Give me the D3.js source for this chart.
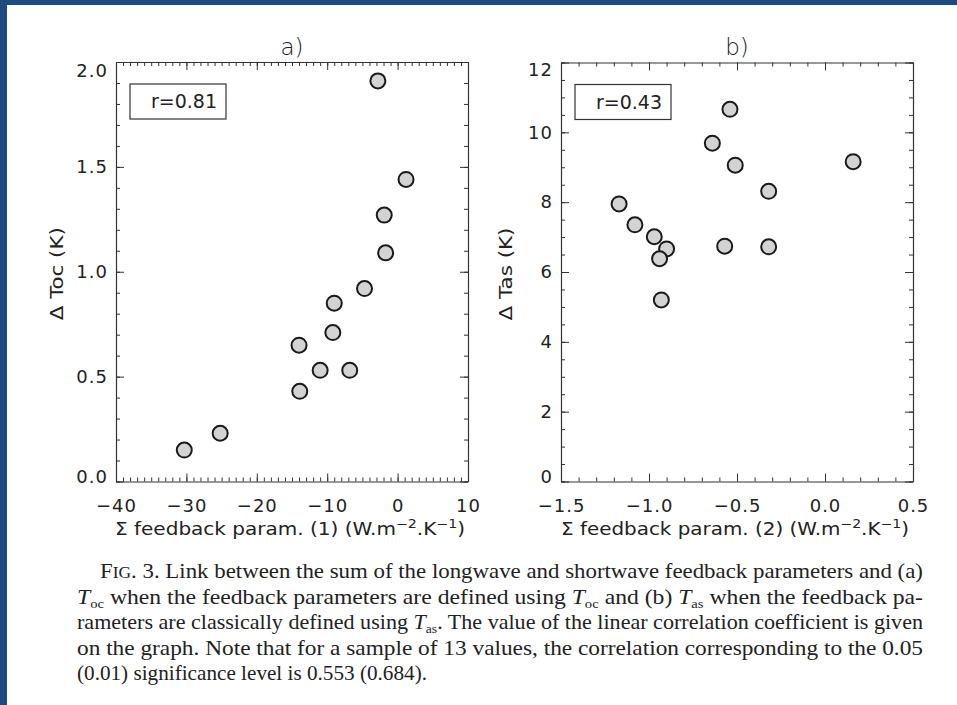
<!DOCTYPE html>
<html>
<head>
<meta charset="utf-8">
<script src="https://cdn.jsdelivr.net/npm/d3@7"></script>
<style>
  html, body { margin: 0; padding: 0; background: #fff; }
  svg { display: block; }
  text { fill: #222; }
</style>
</head>
<body>
<div id="container"></div>
<script>
// panel a) data : sum of feedback params (1) vs delta Toc
const aFeedback = [-2.8, 1.2, -1.9, -1.7, -4.7, -9.0, -9.2, -14.0, -11.0, -6.8, -13.9, -25.2, -30.3];
const aToc = [1.91, 1.44, 1.27, 1.09, 0.92, 0.85, 0.71, 0.65, 0.53, 0.53, 0.43, 0.23, 0.15];

// panel b) data : sum of feedback params (2) vs delta Tas
const bFeedback = [-0.54, -0.64, -0.51, 0.16, -0.32, -1.17, -1.08, -0.97, -0.90, -0.94, -0.57, -0.32, -0.93];
const bTas = [10.66, 9.69, 9.06, 9.16, 8.31, 7.95, 7.35, 7.01, 6.66, 6.38, 6.74, 6.72, 5.20];

// tick values
const aXTicks = [-40, -30, -20, -10, 0, 10];
const aYTicks = [0, 0.5, 1.0, 1.5, 2.0];
const bXTicks = [-1.5, -1.0, -0.5, 0.0, 0.5];
const bYTicks = [0, 2, 4, 6, 8, 10, 12];

// correlation labels
const rValues = ['r=0.81', 'r=0.43'];

// caption lines (text pieces: [text, style])
const captionLines = [
  [['F', ''], ['IG', 'sc'], ['. 3. Link between the sum of the longwave and shortwave feedback parameters and (a)', '']],
  [['T', 'i'], ['oc', 'sub'], [' when the feedback parameters are defined using ', ''], ['T', 'i'], ['oc', 'sub'],
   [' and (b) ', ''], ['T', 'i'], ['as', 'sub'], [' when the feedback pa-', '']],
  [['rameters are classically defined using ', ''], ['T', 'i'], ['as', 'sub'],
   ['. The value of the linear correlation coefficient is given', '']],
  [['on the graph. Note that for a sample of 13 values, the correlation corresponding to the 0.05', '']],
  [['(0.01) significance level is 0.553 (0.684).', '']]
];

const w = 957;
const h = 705;
const font = 'DejaVu Sans, sans-serif';

const svg = d3.select('#container')
  .append('svg')
  .attr('width', w)
  .attr('height', h);

// blue page border (top and left)
svg.append('rect').attr('x', 0).attr('y', 0).attr('width', w).attr('height', 5).attr('fill', '#1f4a7d');
svg.append('rect').attr('x', 0).attr('y', 0).attr('width', 7).attr('height', h).attr('fill', '#1f4a7d');

// range helper for minor ticks
function minor(lo, hi, step) {
  const n = Math.round((hi - lo) / step);
  return d3.range(n + 1).map(i => +(lo + i * step).toFixed(4));
}

function drawPanel(p) {
  const xScale = d3.scaleLinear().domain(p.xDomain).range([p.left, p.right]);
  const yScale = d3.scaleLinear().domain(p.yDomain).range([p.bottom, p.top]);
  const xMinor = minor(p.xDomain[0], p.xDomain[1], p.xMinor);
  const yMinor = minor(p.yDomain[0], p.yDomain[1], p.yMinor);

  const g = svg.append('g');

  // minor ticks (all four sides, pointing inward)
  const minorAxes = [
    [d3.axisBottom(xScale).tickValues(xMinor), `translate(0, ${p.bottom})`],
    [d3.axisTop(xScale).tickValues(xMinor), `translate(0, ${p.top})`],
    [d3.axisLeft(yScale).tickValues(yMinor), `translate(${p.left}, 0)`],
    [d3.axisRight(yScale).tickValues(yMinor), `translate(${p.right}, 0)`]
  ];
  minorAxes.forEach(([ax, tr]) => {
    g.append('g')
      .attr('transform', tr)
      .call(ax.tickSizeInner(-4).tickSizeOuter(0).tickFormat(''))
      .call(s => s.select('.domain').remove());
  });

  // major ticks
  g.append('g')
    .attr('transform', `translate(0, ${p.bottom})`)
    .call(d3.axisBottom(xScale).tickValues(p.xTicks).tickFormat(d3.format(p.xFormat))
      .tickSizeInner(-8).tickSizeOuter(0).tickPadding(18));
  g.append('g')
    .attr('transform', `translate(0, ${p.top})`)
    .call(d3.axisTop(xScale).tickValues(p.xTicks).tickFormat('').tickSizeInner(-8).tickSizeOuter(0));
  const yLeft = g.append('g')
    .attr('transform', `translate(${p.left}, 0)`)
    .call(d3.axisLeft(yScale).tickValues(p.yTicks).tickFormat(d3.format(p.yFormat))
      .tickSizeInner(-8).tickSizeOuter(0).tickPadding(8));
  g.append('g')
    .attr('transform', `translate(${p.right}, 0)`)
    .call(d3.axisRight(yScale).tickValues(p.yTicks).tickFormat('').tickSizeInner(-8).tickSizeOuter(0));

  g.selectAll('.domain').attr('stroke', '#333').attr('stroke-width', 1.2);
  g.selectAll('.tick line').attr('stroke', '#333').attr('stroke-width', 1);
  g.selectAll('.tick text')
    .attr('fill', '#222')
    .style('font-family', font)
    .style('font-size', '18px')
    .style('letter-spacing', '1px');

  // end labels on y axis are nudged inside the frame
  const yLabels = yLeft.selectAll('.tick text');
  yLabels.filter((d, i, n) => i === n.length - 1).attr('transform', `translate(0, ${p.topShift})`);
  yLabels.filter((d, i) => i === 0).attr('transform', `translate(0, ${p.bottomShift})`);

  // panel title
  g.append('text')
    .attr('x', (p.left + p.right) / 2)
    .attr('y', 55)
    .attr('text-anchor', 'middle')
    .style('font-family', font)
    .style('font-size', '23px')
    .style('font-weight', 300)
    .text(p.title);

  // x axis title
  const xt = g.append('text')
    .attr('x', (p.left + p.right) / 2 - 2)
    .attr('y', 535)
    .attr('text-anchor', 'middle')
    .attr('textLength', p.xTitleLen)
    .attr('lengthAdjust', 'spacingAndGlyphs')
    .style('font-family', font)
    .style('font-size', '17px');
  xt.append('tspan').text(`\u03A3 feedback param. (${p.num}) (W.m`);
  xt.append('tspan').attr('dy', -7).style('font-size', '12px').text('\u22122');
  xt.append('tspan').attr('dy', 7).text('.K');
  xt.append('tspan').attr('dy', -7).style('font-size', '12px').text('\u22121');
  xt.append('tspan').attr('dy', 7).text(')');

  // y axis title
  g.append('text')
    .attr('transform', `translate(${p.yTitleX}, ${(p.top + p.bottom) / 2 + 2}) rotate(-90)`)
    .attr('dy', '0.35em')
    .attr('text-anchor', 'middle')
    .attr('textLength', 93)
    .attr('lengthAdjust', 'spacingAndGlyphs')
    .style('font-family', font)
    .style('font-size', '17px')
    .text(p.yTitle);

  // correlation box
  g.append('rect')
    .attr('x', p.left + 14)
    .attr('y', p.top + 22)
    .attr('width', 96)
    .attr('height', 35)
    .attr('fill', 'none')
    .attr('stroke', '#333')
    .attr('stroke-width', 1.2);
  g.append('text')
    .attr('x', p.left + 101)
    .attr('y', p.top + 46)
    .attr('text-anchor', 'end')
    .attr('textLength', 66)
    .attr('lengthAdjust', 'spacingAndGlyphs')
    .style('font-family', font)
    .style('font-size', '19px')
    .text(p.r);

  // points
  g.selectAll('circle')
    .data(p.xs.map((x, i) => [x, p.ys[i]]))
    .join('circle')
    .attr('cx', d => xScale(d[0]))
    .attr('cy', d => yScale(d[1]))
    .attr('r', 7.5)
    .attr('fill', '#d3d3d3')
    .attr('stroke', '#1a1a1a')
    .attr('stroke-width', 2);
}

drawPanel({
  left: 116, right: 468, top: 62, bottom: 481.5,
  xDomain: [-40, 10], yDomain: [0, 2],
  xTicks: aXTicks, yTicks: aYTicks, xMinor: 1, yMinor: 0.1,
  xFormat: 'd', yFormat: '.1f',
  topShift: 9, bottomShift: -5,
  title: 'a)', num: 1, xTitleLen: 350,
  yTitle: '\u0394 Toc (K)', yTitleX: 57,
  r: rValues[0], xs: aFeedback, ys: aToc
});

drawPanel({
  left: 561, right: 913, top: 62.5, bottom: 481.5,
  xDomain: [-1.5, 0.5], yDomain: [0, 12],
  xTicks: bXTicks, yTicks: bYTicks, xMinor: 0.1, yMinor: 0.5,
  xFormat: '.1f', yFormat: 'd',
  topShift: 7, bottomShift: -4.5,
  title: 'b)', num: 2, xTitleLen: 348,
  yTitle: '\u0394 Tas (K)', yTitleX: 506,
  r: rValues[1], xs: bFeedback, ys: bTas
});

// caption
const capX = [100, 77, 77, 77, 77];
const capLen = [823, 846, 846, 846, 350];
captionLines.forEach((line, i) => {
  const t = svg.append('text')
    .attr('x', capX[i])
    .attr('y', 578 + i * 25.5)
    .attr('textLength', capLen[i])
    .attr('lengthAdjust', 'spacingAndGlyphs')
    .style('font-family', 'Liberation Serif, serif')
    .style('font-size', '21px')
    .attr('fill', '#222');
  let shifted = false;
  line.forEach(([txt, style]) => {
    const s = t.append('tspan').text(txt);
    if (style === 'i') s.style('font-style', 'italic');
    if (style === 'sc') s.style('font-size', '16px');
    if (style === 'sub') {
      s.style('font-size', '13px').attr('dy', 4);
      shifted = true;
    } else if (shifted) {
      s.attr('dy', -4);
      shifted = false;
    }
  });
});
</script>
</body>
</html>
